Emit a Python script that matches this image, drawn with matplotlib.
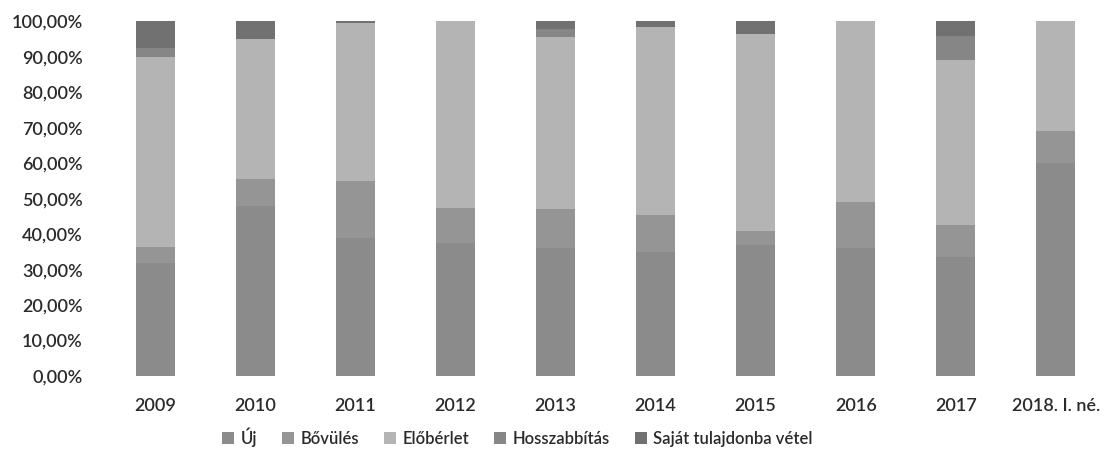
import matplotlib
matplotlib.use("Agg")
import matplotlib.pyplot as plt
import numpy as np
from matplotlib.ticker import FuncFormatter

plt.rcParams['font.family'] = ['Lato', 'DejaVu Sans']

years = ["2009", "2010", "2011", "2012", "2013", "2014", "2015", "2016", "2017", "2018. I. né."]

# share of each contract type per year, in percent
uj = [32.0, 48.0, 39.0, 37.5, 36.0, 35.0, 37.0, 36.0, 33.5, 60.0]
bovules = [4.5, 7.5, 16.0, 10.0, 11.0, 10.5, 4.0, 13.0, 9.0, 9.0]
eloberlet = [53.5, 39.5, 44.5, 52.5, 48.5, 53.0, 55.5, 51.0, 46.5, 31.0]
hosszabbitas = [2.5, 0.0, 0.0, 0.0, 2.5, 0.0, 0.0, 0.0, 7.0, 0.0]
sajat = [7.5, 5.0, 0.5, 0.0, 2.0, 1.5, 3.5, 0.0, 4.0, 0.0]

series_names = ["Új", "Bővülés", "Előbérlet", "Hosszabbítás", "Saját tulajdonba vétel"]
series_values = [uj, bovules, eloberlet, hosszabbitas, sajat]
series_colors = ["#8b8b8b", "#959595", "#b4b4b4", "#868686", "#717171"]

text_color = "#2a2a2a"

fig = plt.figure(figsize=(11.06, 4.61), dpi=100)
ax = fig.add_axes([0.095, 0.1844, 0.905, 0.769])

x = np.arange(len(years))
bottom = np.zeros(len(years))
for name, vals, col in zip(series_names, series_values, series_colors):
    v = np.array(vals) / 100.0
    ax.bar(x, v, width=0.39, bottom=bottom, color=col, label=name,
           edgecolor="none")
    bottom += v

ax.set_xlim(-0.5, len(years) - 0.5)
ax.set_ylim(0, 1.0)
ax.set_yticks(np.linspace(0, 1, 11))
ax.yaxis.set_major_formatter(FuncFormatter(lambda v, p: f"{v*100:.2f}%".replace(".", ",")))
ax.set_xticks(x)
ax.set_xticklabels(years)
ax.tick_params(axis="y", length=0, pad=16, labelsize=13, labelcolor=text_color)
ax.tick_params(axis="x", length=0, pad=16, labelsize=13, labelcolor=text_color)
for lbl in ax.get_xticklabels() + ax.get_yticklabels():
    lbl.set_fontweight("semibold")
for s in ax.spines.values():
    s.set_visible(False)

leg = fig.legend(loc="center", bbox_to_anchor=(0.468, 0.052), ncol=5, frameon=False,
                 fontsize=12, handlelength=0.7, handleheight=0.7, handletextpad=0.4,
                 columnspacing=1.5, labelcolor=text_color)
for t in leg.get_texts():
    t.set_fontweight("semibold")

fig.savefig("out.png", dpi=100, facecolor="white")
